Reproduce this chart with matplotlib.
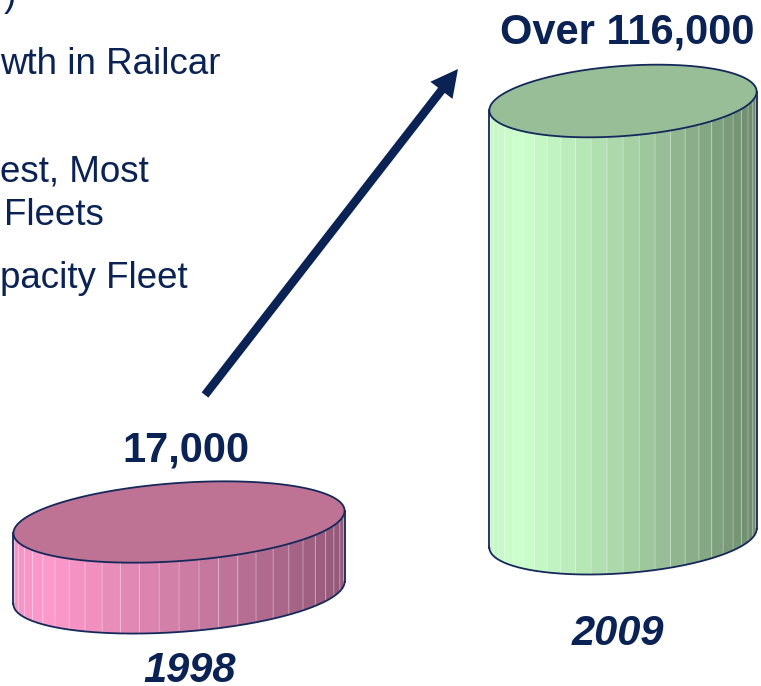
import numpy as np
import matplotlib
matplotlib.use("Agg")
import matplotlib.pyplot as plt
from matplotlib.patches import Polygon, FancyArrow
from matplotlib.colors import LinearSegmentedColormap

# ---------------- data ----------------
years = ["1998", "2009"]
railcars = [17000, 116000]
value_labels = ["17,000", "Over 116,000"]
text_lines = [")", "wth in Railcar", "est, Most", "Fleets", "pacity Fleet"]

# ---------------- figure ----------------
W, H = 761, 686
fig = plt.figure(figsize=(W / 100, H / 100), dpi=100)
ax = fig.add_axes([0, 0, 1, 1])
ax.set_xlim(0, W)
ax.set_ylim(H, 0)
ax.axis("off")

NAVY = "#0B2254"
EDGE = "#14285A"
FONT = "Liberation Sans"


def bar_height(v):
    # value scale (pixels per railcar) of the 3D picture
    return 8 + v * 0.0037


def ellipse_pts(cx, cy, a, b, phi, th):
    x = cx + a * np.cos(th) * np.cos(phi) - b * np.sin(th) * np.sin(phi)
    y = cy + a * np.cos(th) * np.sin(phi) + b * np.sin(th) * np.cos(phi)
    return x, y


def cylinder(cx, cy, a, b, phi_deg, h, side_cmap, top_color, nstrips=26):
    phi = np.deg2rad(phi_deg)
    th0 = np.arctan2(-b * np.tan(phi), a)
    ths = np.linspace(th0, th0 + np.pi, nstrips + 1)
    half = np.sqrt(a ** 2 * np.cos(phi) ** 2 + b ** 2 * np.sin(phi) ** 2)
    xl, xr = cx - half, cx + half
    for i in range(nstrips):
        t = np.linspace(ths[i], ths[i + 1], 8)
        x, y = ellipse_pts(cx, cy, a, b, phi, t)
        xs = np.concatenate([x, x[::-1]])
        ys = np.concatenate([y, (y + h)[::-1]])
        u = (x.mean() - xl) / (xr - xl)
        ax.add_patch(Polygon(np.column_stack([xs, ys]), closed=True,
                             facecolor=side_cmap(u), edgecolor=(1, 1, 1, 0.22),
                             lw=0.7, zorder=2))
    # top
    tt = np.linspace(0, 2 * np.pi, 300)
    x, y = ellipse_pts(cx, cy, a, b, phi, tt)
    ax.add_patch(Polygon(np.column_stack([x, y]), closed=True, facecolor=top_color,
                         edgecolor=EDGE, lw=1.3, zorder=3))
    # silhouette
    t = np.linspace(th0, th0 + np.pi, 200)
    x, y = ellipse_pts(cx, cy, a, b, phi, t)
    ax.plot(x, y + h, color=EDGE, lw=1.3, zorder=3)
    ax.plot([x[0], x[0]], [y[0], y[0] + h], color=EDGE, lw=1.3, zorder=3)
    ax.plot([x[-1], x[-1]], [y[-1], y[-1] + h], color=EDGE, lw=1.3, zorder=3)


pink = LinearSegmentedColormap.from_list(
    "pink", [(0, "#F393C4"), (0.1, "#FF99CC"), (0.5, "#D07EA6"), (1, "#935878")])
green = LinearSegmentedColormap.from_list(
    "green", [(0, "#C6F6C6"), (0.12, "#CCFFCC"), (0.5, "#A9D5A9"), (1, "#6D8A6D")])

cylinder(179, 522, 166, 39, -4.1, bar_height(railcars[0]), pink, "#BF7394")
cylinder(623, 101, 134, 35, -4.3, bar_height(railcars[1]), green, "#98BE98")

# value labels
ax.text(186, 462, value_labels[0], ha="center", va="baseline", fontsize=30,
        fontweight="bold", color=NAVY, family=FONT)
ax.text(627, 43, value_labels[1], ha="center", va="baseline", fontsize=30,
        fontweight="bold", color=NAVY, family=FONT)
# years
ax.text(190, 682, years[0], ha="center", va="baseline", fontsize=30,
        fontweight="bold", style="italic", color=NAVY, family=FONT)
ax.text(618, 645, years[1], ha="center", va="baseline", fontsize=30,
        fontweight="bold", style="italic", color=NAVY, family=FONT)

# left text (cut off by slide crop)
pos = [(4, 6), (0, 74), (0, 182), (4, 225), (0, 288)]
for (x, y), s in zip(pos, text_lines):
    ax.text(x, y, s, ha="left", va="baseline", fontsize=26.5, color=NAVY, family=FONT)

# arrow
ax.add_patch(FancyArrow(205, 395, 458 - 205, 69 - 395, width=8.5, head_width=28,
                        head_length=27, length_includes_head=True,
                        color=NAVY, lw=0, zorder=4))

fig.savefig("out.png", dpi=100, facecolor="white")
